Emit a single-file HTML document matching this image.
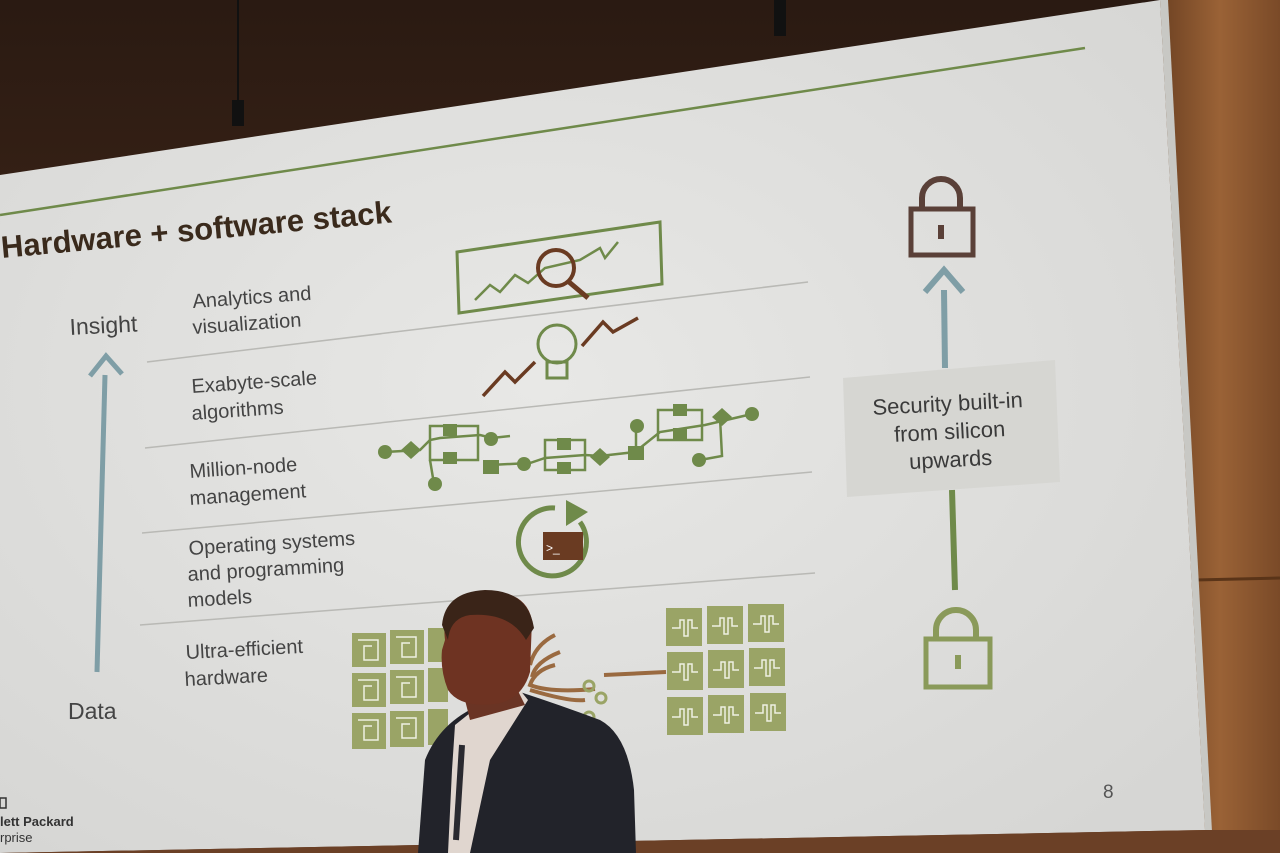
<!DOCTYPE html>
<html><head><meta charset="utf-8"><style>
html,body{margin:0;padding:0;width:1280px;height:853px;overflow:hidden;background:#3a2418;}
svg{display:block}
text{font-family:"Liberation Sans",sans-serif;}
</style></head><body>
<svg width="1280" height="853" viewBox="0 0 1280 853" xmlns="http://www.w3.org/2000/svg">
<defs>
<linearGradient id="wall" x1="0" y1="0" x2="0" y2="1"><stop offset="0" stop-color="#2a1a12"/><stop offset="1" stop-color="#5a3520"/></linearGradient>
<linearGradient id="wood" x1="0" y1="0" x2="1" y2="0"><stop offset="0" stop-color="#6e4223"/><stop offset="0.5" stop-color="#9a6236"/><stop offset="1" stop-color="#7a4a28"/></linearGradient>
<radialGradient id="scr" cx="0.45" cy="0.45" r="0.7"><stop offset="0" stop-color="#e8e8e6"/><stop offset="1" stop-color="#d6d6d4"/></radialGradient>
</defs>
<rect width="1280" height="853" fill="url(#wall)"/>
<rect x="1160" y="0" width="120" height="853" fill="url(#wood)"/>
<line x1="1195" y1="580" x2="1280" y2="578" stroke="#5a3418" stroke-width="3"/>
<line x1="238" y1="0" x2="238" y2="110" stroke="#111" stroke-width="2"/>
<rect x="232" y="100" width="12" height="26" fill="#111"/>
<rect x="774" y="0" width="12" height="36" fill="#111"/>
<polygon points="0,175 1160,0 1205,830 0,853" fill="url(#scr)"/>
<polygon points="1160,0 1168,0 1212,832 1205,830" fill="#c8c8c4"/>
<line x1="0" y1="215" x2="1085" y2="48" stroke="#6f8a4a" stroke-width="2.5"/>
<text x="2" y="258" font-size="31" font-weight="bold" fill="#3a2a1c" transform="rotate(-5.2 2 258)">Hardware + software stack</text>
<g stroke="#b9b9b5" stroke-width="1.5">
<line x1="147" y1="362" x2="808" y2="282"/>
<line x1="145" y1="448" x2="810" y2="377"/>
<line x1="142" y1="533" x2="812" y2="472"/>
<line x1="140" y1="625" x2="815" y2="573"/>
</g>
<g fill="#444" font-size="20">
<text x="193" y="308" transform="rotate(-4 193 308)">Analytics and</text>
<text x="193" y="334" transform="rotate(-4 193 334)">visualization</text>
<text x="192" y="393" transform="rotate(-4 192 393)">Exabyte-scale</text>
<text x="192" y="420" transform="rotate(-4 192 420)">algorithms</text>
<text x="190" y="478" transform="rotate(-3.8 190 478)">Million-node</text>
<text x="190" y="505" transform="rotate(-3.8 190 505)">management</text>
<text x="189" y="555" transform="rotate(-3.5 189 555)">Operating systems</text>
<text x="188" y="581" transform="rotate(-3.5 188 581)">and programming</text>
<text x="188" y="607" transform="rotate(-3.5 188 607)">models</text>
<text x="186" y="659" transform="rotate(-3 186 659)">Ultra-efficient</text>
<text x="185" y="686" transform="rotate(-3 185 686)">hardware</text>
<text x="70" y="335" font-size="23" transform="rotate(-3 70 335)">Insight</text>
<text x="68" y="719" font-size="23">Data</text>
</g>
<line x1="97" y1="672" x2="105" y2="375" stroke="#7f9ea6" stroke-width="5"/>
<polyline points="90,376 106,356 122,374" fill="none" stroke="#7f9ea6" stroke-width="5"/>
<polygon points="457,252 660,222 662,284 459,313" fill="none" stroke="#6f8a4a" stroke-width="3"/>
<polyline points="475,300 490,285 500,292 515,275 528,283 545,268 580,260 600,248 605,258 618,242" fill="none" stroke="#6f8a4a" stroke-width="2.5"/>
<circle cx="556" cy="268" r="18" fill="none" stroke="#6a3b22" stroke-width="4"/>
<line x1="569" y1="282" x2="588" y2="298" stroke="#6a3b22" stroke-width="5"/>
<polyline points="483,396 505,372 515,382 535,362" fill="none" stroke="#6a3b22" stroke-width="3.5"/>
<polyline points="582,346 603,322 613,332 638,318" fill="none" stroke="#6a3b22" stroke-width="3.5"/>
<circle cx="557" cy="344" r="19" fill="none" stroke="#6f8a4a" stroke-width="3"/>
<rect x="547" y="362" width="20" height="16" fill="none" stroke="#6f8a4a" stroke-width="3"/>
<g stroke="#6f8a4a" stroke-width="2.5" fill="none">
<polyline points="385,452 420,450 430,440 440,438 480,435 492,438 510,436"/>
<polyline points="430,460 434,484"/>
<rect x="430" y="426" width="48" height="34"/>
<polyline points="490,465 530,463 545,458 585,455 600,456 635,452 660,432 705,425 752,414"/>
<rect x="545" y="440" width="40" height="30"/>
<rect x="658" y="410" width="44" height="30"/>
<polyline points="720,418 722,456 700,460"/>
<line x1="636" y1="425" x2="636" y2="455"/>
</g>
<g fill="#6f8a4a">
<circle cx="385" cy="452" r="7"/><circle cx="491" cy="439" r="7"/><circle cx="435" cy="484" r="7"/><circle cx="524" cy="464" r="7"/>
<rect x="443" y="424" width="14" height="12"/><rect x="443" y="452" width="14" height="12"/>
<rect x="483" y="460" width="16" height="14"/><rect x="557" y="438" width="14" height="12"/><rect x="557" y="462" width="14" height="12"/>
<polygon points="600,448 610,457 600,466 590,457"/><rect x="628" y="446" width="16" height="14"/><circle cx="637" cy="426" r="7"/>
<rect x="673" y="404" width="14" height="12"/><rect x="673" y="428" width="14" height="12"/>
<polygon points="722,408 732,417 722,426 712,417"/><circle cx="752" cy="414" r="7"/><circle cx="699" cy="460" r="7"/>
<polygon points="411,441 421,450 411,459 401,450"/>
</g>
<path d="M580,522 A34,34 0 1 1 555,508" fill="none" stroke="#6f8a4a" stroke-width="5"/>
<polygon points="566,500 588,512 566,526" fill="#6f8a4a"/>
<rect x="543" y="532" width="40" height="28" fill="#6a3b22"/>
<text x="546" y="552" font-size="12" fill="#fff">&gt;_</text>
<g fill="#9aa466">
<rect x="352" y="633" width="34" height="34"/><rect x="390" y="630" width="34" height="34"/><rect x="428" y="628" width="20" height="34"/>
<rect x="352" y="673" width="34" height="34"/><rect x="390" y="670" width="34" height="34"/><rect x="428" y="668" width="20" height="34"/>
<rect x="352" y="713" width="34" height="36"/><rect x="390" y="711" width="34" height="36"/><rect x="428" y="709" width="20" height="36"/>
<rect x="666" y="608" width="36" height="38"/><rect x="707" y="606" width="36" height="38"/><rect x="748" y="604" width="36" height="38"/>
<rect x="667" y="652" width="36" height="38"/><rect x="708" y="650" width="36" height="38"/><rect x="749" y="648" width="36" height="38"/>
<rect x="667" y="697" width="36" height="38"/><rect x="708" y="695" width="36" height="38"/><rect x="750" y="693" width="36" height="38"/>
</g>
<g stroke="#eef0e2" stroke-width="1.5" fill="none">
<path d="M672,628 h8 v-8 h4 v16 h4 v-16 h4 v8 h6 M712,626 h8 v-8 h4 v16 h4 v-16 h4 v8 h6 M753,624 h8 v-8 h4 v16 h4 v-16 h4 v8 h6"/>
<path d="M672,672 h8 v-8 h4 v16 h4 v-16 h4 v8 h6 M713,670 h8 v-8 h4 v16 h4 v-16 h4 v8 h6 M754,668 h8 v-8 h4 v16 h4 v-16 h4 v8 h6"/>
<path d="M672,717 h8 v-8 h4 v16 h4 v-16 h4 v8 h6 M713,715 h8 v-8 h4 v16 h4 v-16 h4 v8 h6 M755,713 h8 v-8 h4 v16 h4 v-16 h4 v8 h6"/>
<path d="M358,640 h20 v20 h-14 v-14 h8 M396,637 h20 v20 h-14 v-14 h8 M358,680 h20 v20 h-14 v-14 h8 M396,677 h20 v20 h-14 v-14 h8 M358,720 h20 v20 h-14 v-14 h8 M396,718 h20 v20 h-14 v-14 h8"/>
</g>
<g stroke="#9a6a40" stroke-width="4" fill="none">
<path d="M555,635 q-20,10 -25,30"/><path d="M560,652 q-25,10 -28,25"/><path d="M555,665 q-20,5 -25,20 q20,8 65,4"/><path d="M530,690 q40,12 55,10"/>
<line x1="604" y1="675" x2="666" y2="672"/>
</g>
<g stroke="#9aa466" stroke-width="3" fill="none"><circle cx="589" cy="686" r="5"/><circle cx="601" cy="698" r="5"/><circle cx="589" cy="717" r="5"/></g>
<path d="M922,210 v-12 a19,19 0 0 1 38,0 v12" fill="none" stroke="#5a4038" stroke-width="6"/>
<rect x="911" y="209" width="62" height="46" fill="none" stroke="#5a4038" stroke-width="5"/>
<rect x="938" y="225" width="6" height="14" fill="#5a4038"/>
<line x1="945" y1="368" x2="944" y2="290" stroke="#7f9ea6" stroke-width="6"/>
<polyline points="925,292 944,270 963,292" fill="none" stroke="#7f9ea6" stroke-width="6"/>
<line x1="952" y1="490" x2="955" y2="590" stroke="#6f8a4a" stroke-width="6"/>
<polygon points="843,378 1055,360 1060,482 847,497" fill="#d6d6d2"/>
<g fill="#3a3a3a" font-size="22" text-anchor="middle">
<text x="948" y="411" transform="rotate(-3 948 411)">Security built-in</text>
<text x="950" y="439" transform="rotate(-3 950 439)">from silicon</text>
<text x="951" y="467" transform="rotate(-3 951 467)">upwards</text>
</g>
<path d="M936,640 v-10 a20,20 0 0 1 40,0 v10" fill="none" stroke="#8a9a5a" stroke-width="6"/>
<rect x="926" y="639" width="64" height="48" fill="none" stroke="#8a9a5a" stroke-width="5"/>
<rect x="955" y="655" width="6" height="14" fill="#8a9a5a"/>
<text x="1103" y="798" font-size="19" fill="#555">8</text>
<text x="0" y="826" font-size="13" fill="#333" font-weight="bold">lett Packard</text>
<text x="0" y="842" font-size="13" fill="#333">rprise</text>
<rect x="0" y="798" width="6" height="10" fill="none" stroke="#333" stroke-width="1.5"/>
<polygon points="0,853 1205,830 1280,830 1280,853" fill="#6b4026"/>
<path d="M418,853 L425,760 Q440,722 480,705 L520,692 Q560,705 600,720 Q628,735 634,790 L636,853 Z" fill="#22232a"/>
<path d="M455,725 L480,705 L520,690 L528,700 L490,760 L470,853 L448,853 L452,770 Z" fill="#e0d6cf"/>
<path d="M465,700 L515,685 L525,705 L470,720 Z" fill="#6a3424"/>
<path d="M445,640 Q440,600 480,592 Q525,588 532,620 L530,672 Q522,700 495,704 Q460,708 448,690 Q440,670 442,650 Z" fill="#6e3322"/>
<path d="M442,625 Q445,592 485,590 Q528,590 534,628 L526,640 Q510,612 470,615 Q450,618 448,640 Z" fill="#3a2418"/>
<line x1="462" y1="745" x2="456" y2="840" stroke="#2a2a30" stroke-width="6"/>
</svg>
</body></html>
